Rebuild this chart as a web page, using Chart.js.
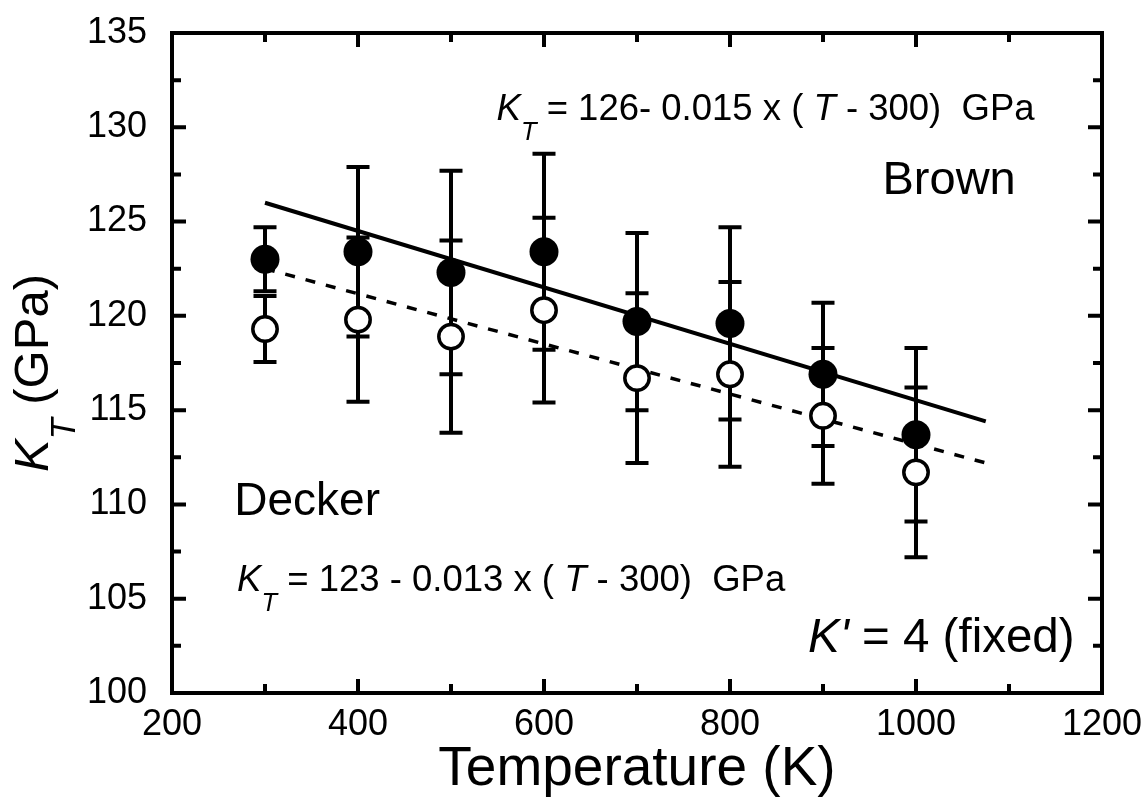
<!DOCTYPE html>
<html>
<head>
<meta charset="utf-8">
<script src="https://cdn.jsdelivr.net/npm/chart.js@4.4.0/dist/chart.umd.min.js"></script>
<style>
  html, body { margin: 0; padding: 0; background: #fff; }
  canvas { display: block; }
</style>
</head>
<body>
<canvas id="kChart" width="1146" height="808"></canvas>
<script>
// temperature (K) and bulk modulus values
const temps = [300, 400, 500, 600, 700, 800, 900, 1000];
const brownK = [123.0, 123.4, 122.3, 123.4, 119.7, 119.6, 116.9, 113.7];
const brownErr = [1.7, 4.5, 5.4, 5.2, 4.7, 5.1, 3.8, 4.6];
const deckerK = [119.3, 119.8, 118.9, 120.3, 116.7, 116.9, 114.7, 111.7];
const deckerErr = [1.75, 4.35, 5.1, 4.9, 4.5, 4.9, 3.6, 4.5];

// fitted lines, end points
const fitT = [300, 1075];
const brownFit = [126.0, 114.4];
const deckerFit = [122.5, 112.2];

const xTicks = [200, 400, 600, 800, 1000, 1200];
const xMinor = [300, 500, 700, 900, 1100];
const yTicks = [100, 105, 110, 115, 120, 125, 130, 135];
const yMinor = [102.5, 107.5, 112.5, 117.5, 122.5, 127.5, 132.5];

const FONT = "'Liberation Sans', Arial, Helvetica, sans-serif";

// draws a string made of plain / italic / subscript pieces
function drawRich(ctx, x, y, parts, size) {
  let cx = x;
  parts.forEach(p => {
    const fs = p.sub ? size * 0.7 : size;
    ctx.font = (p.it ? 'italic ' : '') + fs + 'px ' + FONT;
    ctx.fillText(p.t, cx, y + (p.sub ? size * 0.55 : 0));
    cx += ctx.measureText(p.t).width;
  });
  return cx - x;
}

function richWidth(ctx, parts, size) {
  let w = 0;
  parts.forEach(p => {
    const fs = p.sub ? size * 0.7 : size;
    ctx.font = (p.it ? 'italic ' : '') + fs + 'px ' + FONT;
    w += ctx.measureText(p.t).width;
  });
  return w;
}

const errorBars = {
  id: 'errorBars',
  beforeDatasetsDraw(chart) {
    const { ctx, scales: { x, y } } = chart;
    ctx.save();
    ctx.strokeStyle = '#000';
    ctx.lineWidth = 4;
    [[brownK, brownErr], [deckerK, deckerErr]].forEach(([vals, errs]) => {
      temps.forEach((t, i) => {
        const px = x.getPixelForValue(t);
        const top = y.getPixelForValue(vals[i] + errs[i]);
        const bot = y.getPixelForValue(vals[i] - errs[i]);
        ctx.beginPath();
        ctx.moveTo(px, top); ctx.lineTo(px, bot);
        ctx.moveTo(px - 11.5, top); ctx.lineTo(px + 11.5, top);
        ctx.moveTo(px - 11.5, bot); ctx.lineTo(px + 11.5, bot);
        ctx.stroke();
      });
    });
    ctx.restore();
  }
};

const frameAndText = {
  id: 'frameAndText',
  afterDraw(chart) {
    const { ctx, chartArea: a, scales: { x, y } } = chart;
    ctx.save();
    ctx.strokeStyle = '#000';
    ctx.fillStyle = '#000';
    ctx.lineWidth = 4;
    ctx.strokeRect(a.left, a.top, a.right - a.left, a.bottom - a.top);

    // inward ticks on all four sides
    ctx.beginPath();
    const xt = (v, len) => {
      const px = x.getPixelForValue(v);
      ctx.moveTo(px, a.bottom); ctx.lineTo(px, a.bottom - len);
      ctx.moveTo(px, a.top); ctx.lineTo(px, a.top + len);
    };
    const yt = (v, len) => {
      const py = y.getPixelForValue(v);
      ctx.moveTo(a.left, py); ctx.lineTo(a.left + len, py);
      ctx.moveTo(a.right, py); ctx.lineTo(a.right - len, py);
    };
    xTicks.forEach(v => xt(v, 14));
    xMinor.forEach(v => xt(v, 9));
    yTicks.forEach(v => yt(v, 14));
    yMinor.forEach(v => yt(v, 9));
    ctx.stroke();

    // annotations
    ctx.textBaseline = 'alphabetic';
    ctx.textAlign = 'left';
    drawRich(ctx, x.getPixelForValue(549), y.getPixelForValue(130.4), [
      { t: 'K', it: true }, { t: 'T', it: true, sub: true },
      { t: ' = 126- 0.015 x ( ' }, { t: 'T', it: true }, { t: ' - 300)  GPa' }
    ], 36.5);
    drawRich(ctx, x.getPixelForValue(964), y.getPixelForValue(126.45), [{ t: 'Brown' }], 47);
    drawRich(ctx, x.getPixelForValue(267), y.getPixelForValue(109.45), [{ t: 'Decker' }], 46);
    drawRich(ctx, x.getPixelForValue(270), y.getPixelForValue(105.4), [
      { t: 'K', it: true }, { t: 'T', it: true, sub: true },
      { t: ' = 123 - 0.013 x ( ' }, { t: 'T', it: true }, { t: ' - 300)  GPa' }
    ], 36.5);
    drawRich(ctx, x.getPixelForValue(884), y.getPixelForValue(102.2), [
      { t: "K'", it: true }, { t: ' = 4 (fixed)' }
    ], 47.5);

    // y axis title, rotated
    const yParts = [{ t: 'K', it: true }, { t: 'T', it: true, sub: true }, { t: ' (GPa)' }];
    const w = richWidth(ctx, yParts, 49);
    ctx.translate(48, (a.top + a.bottom) / 2 + 10);
    ctx.rotate(-Math.PI / 2);
    drawRich(ctx, -w / 2, 0, yParts, 49);
    ctx.restore();
  }
};

const ctx = document.getElementById('kChart').getContext('2d');
new Chart(ctx, {
  data: {
    datasets: [
      {
        type: 'scatter',
        label: 'Brown',
        data: temps.map((t, i) => ({ x: t, y: brownK[i] })),
        pointRadius: 14.5,
        pointBackgroundColor: '#000',
        pointBorderWidth: 0,
        order: 0
      },
      {
        type: 'scatter',
        label: 'Decker',
        data: temps.map((t, i) => ({ x: t, y: deckerK[i] })),
        pointRadius: 12.2,
        pointBackgroundColor: '#fff',
        pointBorderColor: '#000',
        pointBorderWidth: 3.5,
        order: 1
      },
      {
        type: 'line',
        label: 'Brown fit',
        data: fitT.map((t, i) => ({ x: t, y: brownFit[i] })),
        borderColor: '#000',
        borderWidth: 4,
        pointRadius: 0,
        order: 2
      },
      {
        type: 'line',
        label: 'Decker fit',
        data: fitT.map((t, i) => ({ x: t, y: deckerFit[i] })),
        borderColor: '#000',
        borderWidth: 3.5,
        borderDash: [10, 11],
        pointRadius: 0,
        order: 3
      }
    ]
  },
  options: {
    responsive: false,
    animation: false,
    devicePixelRatio: 1,
    layout: { padding: { top: 33, right: 44, left: 0, bottom: 0 } },
    plugins: { legend: { display: false }, tooltip: { enabled: false } },
    scales: {
      x: {
        type: 'linear',
        min: 200, max: 1200,
        afterBuildTicks: s => { s.ticks = xTicks.map(v => ({ value: v })); },
        afterFit: s => { s.height = 115; s.paddingLeft = 0; s.paddingRight = 0; },
        grid: { display: false, drawTicks: false },
        border: { display: false },
        ticks: {
          color: '#000', padding: 10, maxRotation: 0,
          font: { family: FONT, size: 36 },
          callback: v => String(v)
        },
        title: {
          display: true, text: 'Temperature (K)', color: '#000',
          font: { family: FONT, size: 55 }, padding: { top: 0, bottom: 5 }
        }
      },
      y: {
        type: 'linear',
        min: 100, max: 135,
        afterBuildTicks: s => { s.ticks = yTicks.map(v => ({ value: v })); },
        afterFit: s => { s.width = 172; s.paddingTop = 0; s.paddingBottom = 0; },
        grid: { display: false, drawTicks: false },
        border: { display: false },
        ticks: {
          color: '#000', padding: 25,
          font: { family: FONT, size: 36 },
          callback: v => String(v)
        }
      }
    }
  },
  plugins: [errorBars, frameAndText]
});
</script>
</body>
</html>
